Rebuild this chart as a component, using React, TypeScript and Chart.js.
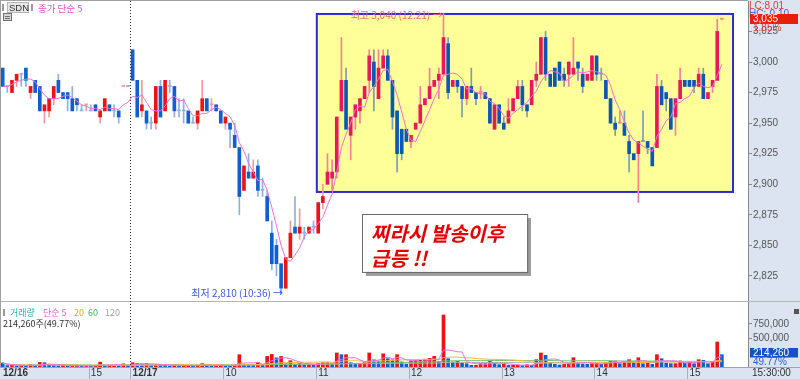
import React, { useEffect, useRef } from 'react';
import { Chart, registerables } from 'chart.js';

Chart.register(...registerables);

// ---- 3-minute candles: 12/16 14:03 ~ 15:30, 12/17 09:00 ~ 15:30 ----
const opens = [
  2995, 2980, 2975, 2985, 2990, 2995, 2975, 2985, 2980, 2960,
  2960, 2970, 2985, 2975, 2975, 2970, 2970, 2960, 2965, 2960,
  2965, 2955, 2960, 2965, 2960, 2960, 2980, 2980,
  3010, 2985, 2960, 2960, 2950, 2950, 2980, 2960, 2980, 2980,
  2960, 2960, 2960, 2950, 2950, 2960, 2970, 2965, 2965, 2960,
  2950, 2950, 2940, 2930, 2895, 2910, 2905, 2915, 2895, 2890,
  2860, 2850, 2835, 2815, 2840, 2865, 2860, 2860, 2860, 2865,
  2860, 2885, 2900, 2905, 2910, 2960, 2985, 2940, 2955, 2960,
  2970, 2985, 3000, 2970, 2995, 3005, 2985, 2960, 2945, 2945,
  2935, 2945, 2950, 2965, 2970, 2980, 2985, 2990, 3015, 2980,
  2985, 2980, 2970, 2980, 2975, 2975, 2975, 2970, 2945, 2965,
  2950, 2950, 2960, 2970, 2980, 2965, 2965, 2985, 2990, 3020,
  2990, 2995, 3000, 2990, 2990, 2990, 3000, 2990, 2985, 2985,
  3005, 2990, 2985, 2970, 2950, 2950, 2950, 2935, 2925, 2925,
  2935, 2935, 2930, 2930, 2980, 2975, 2970, 2955, 2970, 2985,
  2985, 2985, 2980, 2990, 2970, 2980, 2985, 3035,
];
const highs = [
  2995, 2980, 2985, 2990, 2990, 2995, 2980, 2985, 2980, 2965,
  2970, 2980, 2990, 2975, 2975, 2980, 2970, 2965, 2965, 2965,
  2965, 2960, 2970, 2965, 2965, 2960, 2980, 2980,
  3010, 2985, 2985, 2960, 2955, 2980, 2985, 2985, 2985, 2980,
  2970, 2970, 2960, 2955, 2960, 2985, 2970, 2970, 2965, 2960,
  2955, 2950, 2950, 2930, 2915, 2925, 2920, 2920, 2905, 2895,
  2870, 2855, 2835, 2840, 2870, 2890, 2880, 2865, 2865, 2870,
  2885, 2900, 2925, 2920, 2955, 3020, 2995, 2955, 2965, 2970,
  2980, 3010, 3010, 3010, 3010, 3010, 2985, 2960, 2945, 2945,
  2940, 2950, 2980, 2970, 2995, 2985, 2995, 3040, 3020, 2985,
  2985, 2980, 2980, 2995, 2975, 2980, 2975, 2970, 2965, 2965,
  2955, 2970, 2970, 2985, 2985, 2965, 2985, 3000, 3020, 3025,
  2990, 2995, 3000, 2995, 3000, 3020, 3000, 2995, 2990, 3005,
  3005, 2995, 2985, 2970, 2955, 2960, 2960, 2940, 2925, 2935,
  2960, 2935, 2930, 2990, 2985, 2975, 2970, 2970, 2995, 2985,
  2985, 2985, 2995, 2995, 2975, 2985, 3035, 3035,
];
const lows = [
  2980, 2975, 2975, 2980, 2980, 2980, 2970, 2975, 2960, 2950,
  2955, 2965, 2975, 2970, 2960, 2960, 2960, 2960, 2960, 2960,
  2960, 2950, 2960, 2960, 2955, 2950, 2980, 2980,
  2985, 2955, 2955, 2945, 2945, 2945, 2955, 2960, 2975, 2955,
  2955, 2950, 2950, 2950, 2945, 2960, 2960, 2960, 2960, 2950,
  2945, 2930, 2930, 2875, 2895, 2905, 2905, 2890, 2890, 2870,
  2830, 2825, 2810, 2815, 2840, 2860, 2855, 2855, 2860, 2860,
  2860, 2880, 2900, 2895, 2905, 2960, 2945, 2920, 2945, 2950,
  2970, 2975, 2960, 2970, 2995, 2985, 2945, 2910, 2920, 2935,
  2930, 2945, 2950, 2965, 2970, 2980, 2970, 2990, 2970, 2980,
  2975, 2955, 2965, 2975, 2965, 2970, 2970, 2950, 2945, 2950,
  2945, 2950, 2960, 2970, 2960, 2955, 2965, 2980, 2990, 2985,
  2980, 2980, 2985, 2980, 2980, 2990, 2985, 2975, 2985, 2985,
  2985, 2985, 2970, 2950, 2940, 2950, 2940, 2910, 2920, 2885,
  2935, 2925, 2915, 2930, 2965, 2960, 2945, 2940, 2970, 2980,
  2980, 2975, 2980, 2970, 2970, 2975, 2985, 3035,
];
const closes = [
  2980, 2980, 2985, 2990, 2990, 2985, 2980, 2975, 2960, 2965,
  2970, 2980, 2975, 2970, 2970, 2960, 2965, 2960, 2965, 2960,
  2960, 2960, 2970, 2960, 2960, 2955, 2980, 2980,
  2985, 2955, 2965, 2950, 2950, 2980, 2955, 2985, 2980, 2960,
  2960, 2960, 2950, 2950, 2960, 2970, 2960, 2965, 2960, 2950,
  2955, 2945, 2930, 2890, 2915, 2905, 2910, 2895, 2895, 2870,
  2835, 2835, 2815, 2840, 2860, 2860, 2865, 2860, 2865, 2865,
  2885, 2890, 2910, 2910, 2955, 2985, 2945, 2955, 2965, 2970,
  2980, 3005, 2980, 2995, 3005, 2985, 2955, 2925, 2925, 2935,
  2940, 2950, 2965, 2970, 2980, 2985, 2990, 3020, 2975, 2985,
  2980, 2970, 2980, 2975, 2970, 2975, 2970, 2950, 2965, 2950,
  2945, 2960, 2970, 2980, 2965, 2960, 2985, 2990, 3020, 2990,
  2980, 2980, 2985, 2985, 3000, 2995, 2995, 2980, 2990, 3005,
  2990, 2990, 2970, 2950, 2945, 2950, 2940, 2925, 2920, 2935,
  2935, 2930, 2915, 2980, 2965, 2970, 2945, 2970, 2985, 2980,
  2980, 2980, 2990, 2970, 2975, 2985, 3025, 3035,
];
const volumes = [
  70000, 25000, 30000, 20000, 25000, 20000, 45000, 20000, 80000, 75000,
  30000, 25000, 20000, 30000, 15000, 20000, 25000, 15000, 20000, 15000,
  25000, 85000, 20000, 25000, 30000, 20000, 55000, 20000,
  75000, 60000, 55000, 60000, 30000, 45000, 40000, 35000, 20000, 30000,
  20000, 25000, 30000, 15000, 25000, 58000, 30000, 20000, 25000, 30000,
  25000, 20000, 35000, 215000, 45000, 40000, 30000, 80000, 35000, 185000,
  220000, 160000, 185000, 55000, 110000, 45000, 60000, 35000, 40000, 30000,
  60000, 75000, 75000, 50000, 245000, 215000, 215000, 75000, 55000, 55000,
  75000, 245000, 125000, 105000, 230000, 145000, 125000, 215000, 87000, 47000,
  105000, 116000, 116000, 128000, 151000, 186000, 93000, 907000, 145000, 87000,
  99000, 70000, 58000, 30000, 30000, 58000, 58000, 99000, 70000, 40000,
  47000, 30000, 30000, 35000, 25000, 40000, 30000, 128000, 244000, 204000,
  75000, 47000, 35000, 47000, 58000, 162000, 58000, 52000, 47000, 58000,
  70000, 47000, 82000, 99000, 99000, 58000, 99000, 128000, 87000, 162000,
  58000, 75000, 47000, 215000, 145000, 70000, 58000, 58000, 105000, 70000,
  87000, 58000, 128000, 116000, 58000, 82000, 436000, 214260,
];

const priceTicks = [2825, 2850, 2875, 2900, 2925, 2950, 2975, 3000, 3025];
const volumeTicks = [500000, 750000];
const timeTickIndex = [0, 19, 28, 48, 68, 88, 108, 128, 148];
const timeTickText = ['12/16', '15', '12/17', '10', '11', '12', '13', '14', '15'];
const dayBreakAt = 27.5;
const prevDayLastIndex = 27;
const highIndex = 95;
const lowIndex = 60;
const boxArea = { from: 67.7, to: 157.4, top: 3039.3, bottom: 2893.7 };
const noteArea = { from: 77.4, to: 113, top: 2875.7, bottom: 2828.3 };
const boxStartIndex = 70;
const xRange = { min: -0.366, max: 160.63 };

const CJK = '"Noto Sans CJK KR", "Noto Sans", sans-serif';
const LAT = '"Liberation Sans", Arial, sans-serif';

const n = closes.length;
const fmt = (v: number) => Math.round(v).toLocaleString('en-US');
const sma = (arr: number[], p: number) =>
  arr.map((_, i) => {
    const s = Math.max(0, i - p + 1);
    const w = arr.slice(s, i + 1);
    return w.reduce((a, b) => a + b, 0) / w.length;
  });

const isUp = (i: number) =>
  closes[i] > opens[i] || (closes[i] === opens[i] && i > 0 && closes[i] > closes[i - 1]);
const isDoji = (i: number) => closes[i] === opens[i];

const bodyColors = closes.map((_, i) => {
  const box = i >= boxStartIndex;
  if (isDoji(i)) return isUp(i) ? (box ? '#f0809c' : '#f59a9a') : (box ? '#7a9cb4' : '#8db0e6');
  return isUp(i) ? (box ? '#e8185c' : '#f01212') : (box ? '#0a58b4' : '#0f5fd2');
});
const wickColors = closes.map((_, i) => {
  const box = i >= boxStartIndex;
  return isUp(i) ? (box ? '#f0809c' : '#f59a9a') : (box ? '#7a9cb4' : '#8db0e6');
});
const volColors = volumes.map((v, i) => (i > 0 && v >= volumes[i - 1] ? '#f01212' : '#0f5fd2'));

const ma5 = sma(closes, 5);
const vma5 = sma(volumes, 5);
const vma20 = sma(volumes, 20);
const vma60 = sma(volumes, 60);
const vma120 = sma(volumes, 120);

const pts = (arr: number[]) => arr.map((y, x) => ({ x, y }));

const overlay = {
  id: 'overlay',
  beforeDraw(chart: any) {
    const { ctx, width, height, chartArea: ca } = chart;
    ctx.save();
    ctx.fillStyle = '#ffffff';
    ctx.fillRect(0, 0, width, height);
    ctx.fillStyle = '#dbe4f0';
    ctx.fillRect(ca.right, 0, width - ca.right, height);
    ctx.fillRect(0, ca.bottom, width, height - ca.bottom);
    ctx.restore();
  },
  beforeDatasetsDraw(chart: any) {
    const { ctx } = chart;
    const xs = chart.scales.x, ys = chart.scales.y;
    const l = xs.getPixelForValue(boxArea.from), r = xs.getPixelForValue(boxArea.to);
    const t = ys.getPixelForValue(boxArea.top), b = ys.getPixelForValue(boxArea.bottom);
    ctx.save();
    ctx.fillStyle = '#ffff99';
    ctx.fillRect(l, t, r - l, b - t);
    ctx.strokeStyle = '#2a2ad8';
    ctx.lineWidth = 2;
    ctx.strokeRect(l, t, r - l, b - t);
    ctx.restore();
  },
  afterDraw(chart: any) {
    const { ctx, width, height, chartArea: ca } = chart;
    const xs = chart.scales.x, ys = chart.scales.y, yv = chart.scales.yv;
    ctx.save();
    ctx.strokeStyle = '#b4b4b4';
    ctx.lineWidth = 1;
    const sep = Math.round(yv.top) + 0.5;
    ctx.beginPath(); ctx.moveTo(0, sep); ctx.lineTo(width, sep); ctx.stroke();
    ctx.strokeStyle = '#9aa6b8';
    ctx.beginPath(); ctx.moveTo(0, Math.round(ca.bottom) + 0.5); ctx.lineTo(width, Math.round(ca.bottom) + 0.5); ctx.stroke();
    ctx.strokeStyle = '#a0a0a0';
    ctx.beginPath(); ctx.moveTo(0.5, 0); ctx.lineTo(0.5, ca.bottom); ctx.stroke();
    ctx.beginPath(); ctx.moveTo(0, 0.5); ctx.lineTo(ca.right, 0.5); ctx.stroke();

    const dx = Math.round(xs.getPixelForValue(dayBreakAt)) + 0.5;
    ctx.strokeStyle = '#333';
    ctx.setLineDash([1, 2]);
    ctx.beginPath(); ctx.moveTo(dx, ca.top); ctx.lineTo(dx, ca.bottom); ctx.stroke();
    ctx.setLineDash([]);

    ctx.textBaseline = 'middle';
    ctx.textAlign = 'right';
    ctx.font = `10px ${CJK}`;
    ctx.fillStyle = '#f0687e';
    ctx.fillText(`최고 ${fmt(highs[highIndex])} (12:21) →`, xs.getPixelForValue(highIndex) - 1, ys.getPixelForValue(highs[highIndex]) + 2);
    ctx.fillStyle = '#3a56e0';
    ctx.fillText(`최저 ${fmt(lows[lowIndex])} (10:36) →`, xs.getPixelForValue(lowIndex) + 2, ys.getPixelForValue(lows[lowIndex]) - 1);

    const nl = xs.getPixelForValue(noteArea.from), nr = xs.getPixelForValue(noteArea.to);
    const nt = ys.getPixelForValue(noteArea.top), nb = ys.getPixelForValue(noteArea.bottom);
    ctx.fillStyle = '#9c9c9c';
    ctx.fillRect(nl + 4, nt + 4, nr - nl, nb - nt);
    ctx.fillStyle = '#ffffff';
    ctx.fillRect(nl, nt, nr - nl, nb - nt);
    ctx.strokeStyle = '#6a6a6a';
    ctx.strokeRect(Math.round(nl) + 0.5, Math.round(nt) + 0.5, nr - nl, nb - nt);
    ctx.textAlign = 'left';
    ctx.fillStyle = '#e60000';
    ctx.font = `italic bold 20px ${CJK}`;
    ctx.fillText('찌라시 발송이후', nl + 9, nt + 19);
    ctx.fillText('급등 !!', nl + 9, nt + 44);

    ctx.fillStyle = '#9a9a9a';
    ctx.fillRect(2, 4, 2, 7);
    ctx.fillStyle = '#e6e6e6';
    ctx.fillRect(7, 2, 21, 11);
    ctx.strokeStyle = '#b8b8b8';
    ctx.strokeRect(7.5, 2.5, 21, 10);
    ctx.fillStyle = '#333';
    ctx.font = `9.5px ${LAT}`;
    ctx.fillText('SDN', 9, 8);
    ctx.fillStyle = '#9a9a9a';
    ctx.fillRect(31, 4, 2, 7);
    ctx.fillStyle = '#e650c8';
    ctx.font = `9.5px ${CJK}`;
    ctx.fillText('종가 단순 5', 38, 8);
    ctx.fillStyle = '#d8d8d8';
    ctx.fillRect(3, 13, 9, 8);
    ctx.strokeStyle = '#707070';
    ctx.strokeRect(3.5, 13.5, 8, 7);
    ctx.beginPath(); ctx.moveTo(5, 16.5); ctx.lineTo(10, 16.5); ctx.moveTo(5, 18.5); ctx.lineTo(10, 18.5); ctx.stroke();

    const ly = yv.top + 12;
    ctx.fillStyle = '#9a9a9a';
    ctx.fillRect(3, ly - 4, 2, 7);
    ctx.font = `9px ${CJK}`;
    ctx.fillStyle = '#3aa6b0'; ctx.fillText('거래량', 10, ly);
    ctx.fillStyle = '#e860d0'; ctx.fillText('단순 5', 43, ly);
    ctx.fillStyle = '#f0a820'; ctx.fillText('20', 74, ly);
    ctx.fillStyle = '#3cb45a'; ctx.fillText('60', 88, ly);
    ctx.fillStyle = '#a0a0a0'; ctx.fillText('120', 105, ly);
    ctx.fillStyle = '#333';
    ctx.fillText(`${fmt(volumes[n - 1])}주(49.77%)`, 3, ly + 11);

    const rx = ca.right + 2;
    ctx.font = `10px ${LAT}`;
    ctx.fillStyle = '#3c64dc';
    ctx.fillText('HC:-0.10', ca.right + 1, 14);
    ctx.fillStyle = '#e03c3c';
    ctx.fillText('LC:8,01', ca.right + 1, 6);
    const py = ys.getPixelForValue(closes[n - 1]);
    ctx.fillStyle = '#e81e0a';
    ctx.fillRect(rx, Math.round(py) - 5, 48, 10);
    ctx.fillStyle = '#ffffff';
    ctx.fillText(fmt(closes[n - 1]), rx + 3, Math.round(py));
    const pct = ((closes[n - 1] - closes[prevDayLastIndex]) / closes[prevDayLastIndex]) * 100;
    ctx.fillStyle = '#e03c3c';
    ctx.fillText(`${pct.toFixed(2)}%`, rx + 3, Math.round(py) + 9.5);
    const vy = yv.getPixelForValue(volumes[n - 1]) - 2;
    ctx.fillStyle = '#1450c8';
    ctx.fillRect(rx, Math.round(vy) - 5, 48, 9.5);
    ctx.fillStyle = '#ffffff';
    ctx.fillText(fmt(volumes[n - 1]), rx + 3, Math.round(vy));
    ctx.fillStyle = '#2a5cd0';
    ctx.fillText('49.77%', rx + 3, Math.round(vy) + 9);
    ctx.fillStyle = '#555';
    ctx.fillRect(width - 6, yv.top + 8, 5, 5);

    const ty = (ca.bottom + height) / 2 + 0.5;
    ctx.strokeStyle = '#a4b0c4';
    timeTickIndex.forEach((idx, k) => {
      const px = xs.getPixelForValue(idx);
      if (k > 0) {
        const sx = Math.round(px - 2.3) + 0.5;
        ctx.beginPath(); ctx.moveTo(sx, ca.bottom); ctx.lineTo(sx, height); ctx.stroke();
      }
      const label = timeTickText[k];
      ctx.font = label.includes('/') ? `bold 10px ${LAT}` : `10px ${LAT}`;
      ctx.fillStyle = '#333';
      ctx.fillText(label, k === 0 ? 3 : px, ty);
    });
    ctx.font = `10px ${LAT}`;
    ctx.fillStyle = '#333';
    ctx.fillText('15:30:00', ca.right + 4, ty);
    ctx.restore();
  },
};

export default function App() {
  const ref = useRef<HTMLCanvasElement>(null);
  useEffect(() => {
    const chart = new Chart(ref.current as HTMLCanvasElement, {
      type: 'bar',
      data: {
        datasets: [
          {
            type: 'line', label: 'MA5', data: pts(ma5), yAxisID: 'y',
            borderColor: '#f070dc', borderWidth: 1, pointRadius: 0, order: 0,
          } as any,
          {
            type: 'line', label: 'VMA5', data: pts(vma5), yAxisID: 'yv',
            borderColor: '#f070dc', borderWidth: 1, pointRadius: 0, order: 1,
          } as any,
          {
            type: 'line', label: 'VMA20', data: pts(vma20), yAxisID: 'yv',
            borderColor: '#f0b840', borderWidth: 1, pointRadius: 0, order: 1,
          } as any,
          {
            type: 'line', label: 'VMA60', data: pts(vma60), yAxisID: 'yv',
            borderColor: '#70c070', borderWidth: 1, pointRadius: 0, order: 1,
          } as any,
          {
            type: 'line', label: 'VMA120', data: pts(vma120), yAxisID: 'yv',
            borderColor: '#b0b0b0', borderWidth: 1, pointRadius: 0, order: 1,
          } as any,
          {
            label: 'body', yAxisID: 'y', order: 2, grouped: false,
            data: closes.map((c, i) => ({ x: i, y: [opens[i], c] })),
            backgroundColor: bodyColors, barThickness: 3, minBarLength: 1, borderWidth: 0,
          } as any,
          {
            label: 'wick', yAxisID: 'y', order: 3, grouped: false,
            data: closes.map((_, i) => ({ x: i, y: [lows[i], highs[i]] })),
            backgroundColor: wickColors, barThickness: 1, minBarLength: 1, borderWidth: 0,
          } as any,
          {
            label: 'volume', yAxisID: 'yv', order: 4, grouped: false,
            data: volumes.map((v, i) => ({ x: i, y: v })),
            backgroundColor: volColors, barThickness: 3, borderWidth: 0,
          } as any,
        ],
      },
      options: {
        animation: false,
        responsive: false,
        devicePixelRatio: 1,
        layout: { padding: { left: 1, top: 1, right: 0, bottom: 12 } },
        plugins: { legend: { display: false }, tooltip: { enabled: false } },
        scales: {
          x: {
            type: 'linear', min: xRange.min, max: xRange.max, display: false,
            offset: false, bounds: 'data',
            afterBuildTicks: (s: any) => { s.min = xRange.min; s.max = xRange.max; },
          },
          y: {
            position: 'right', stack: 'main', stackWeight: 300,
            min: 2804.5, max: 3049.9,
            afterBuildTicks: (s: any) => { s.ticks = priceTicks.map((value) => ({ value })); },
            afterFit: (s: any) => { s.width = 52; s.paddingTop = 0; s.paddingBottom = 0; },
            grid: { drawOnChartArea: false, drawTicks: true, tickLength: 4, color: '#8a8a8a' },
            border: { display: true, color: '#8a8a8a' },
            ticks: { color: '#555', padding: 1, font: { size: 10, family: 'Liberation Sans' }, callback: (v: any) => fmt(v) },
          },
          yv: {
            position: 'right', stack: 'main', stackWeight: 66,
            min: 0, max: 1151000,
            afterBuildTicks: (s: any) => { s.ticks = volumeTicks.map((value) => ({ value })); },
            afterFit: (s: any) => { s.width = 52; s.paddingTop = 0; s.paddingBottom = 0; },
            grid: { drawOnChartArea: false, drawTicks: true, tickLength: 4, color: '#8a8a8a' },
            border: { display: true, color: '#8a8a8a' },
            ticks: { color: '#555', padding: 1, font: { size: 10, family: 'Liberation Sans' }, callback: (v: any) => fmt(v) },
          },
        },
      } as any,
      plugins: [overlay],
    });
    return () => chart.destroy();
  }, []);
  return (
    <div style={{ position: 'fixed', left: 0, top: 0, width: 800, height: 379, background: '#fff' }}>
      <canvas ref={ref} width={800} height={379} style={{ display: 'block', width: 800, height: 379 }} />
    </div>
  );
}
